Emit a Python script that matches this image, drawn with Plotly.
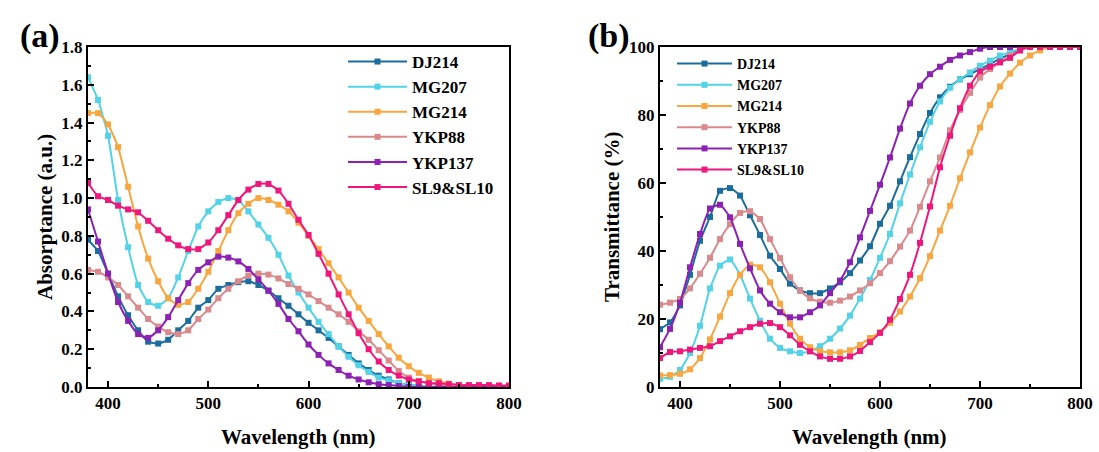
import plotly.graph_objects as go

# Wavelength grid (nm), one sample every 10 nm
wavelength = list(range(380, 801, 10))

series_names = ["DJ214", "MG207", "MG214", "YKP88", "YKP137", "SL9&SL10"]
series_colors = ["#1b6d9e", "#52d3e8", "#f9a63e", "#da8a8c", "#8c21b3", "#f0177c"]

# Absorptance (a.u.)
abs_dj214 = [0.78, 0.72, 0.60, 0.48, 0.38, 0.30, 0.24, 0.23, 0.25, 0.30, 0.35, 0.42, 0.46, 0.52, 0.54,
             0.555, 0.56, 0.54, 0.51, 0.47, 0.43, 0.385, 0.34, 0.30, 0.26, 0.215, 0.17, 0.125, 0.09,
             0.06, 0.04, 0.02, 0.01, 0.005, 0, 0, 0, 0, 0, 0, 0, 0, 0]
abs_mg207 = [1.64, 1.52, 1.33, 0.99, 0.74, 0.54, 0.45, 0.43, 0.47, 0.58, 0.72, 0.85, 0.93, 0.98, 1.00,
             0.99, 0.93, 0.86, 0.79, 0.70, 0.59, 0.50, 0.42, 0.345, 0.28, 0.215, 0.16, 0.115, 0.08,
             0.05, 0.035, 0.02, 0.01, 0.005, 0, 0, 0, 0, 0, 0, 0, 0, 0]
abs_mg214 = [1.45, 1.45, 1.39, 1.27, 1.06, 0.85, 0.68, 0.56, 0.47, 0.435, 0.45, 0.52, 0.61, 0.72, 0.83,
             0.92, 0.97, 1.00, 0.99, 0.965, 0.93, 0.87, 0.80, 0.73, 0.655, 0.58, 0.50, 0.42, 0.35,
             0.28, 0.215, 0.155, 0.11, 0.075, 0.05, 0.03, 0.018, 0.01, 0.005, 0, 0, 0, 0]
abs_ykp88 = [0.62, 0.61, 0.58, 0.54, 0.48, 0.42, 0.36, 0.32, 0.29, 0.28, 0.30, 0.36, 0.41, 0.47, 0.52,
             0.56, 0.59, 0.60, 0.595, 0.575, 0.545, 0.52, 0.49, 0.455, 0.42, 0.385, 0.345, 0.295, 0.25,
             0.195, 0.14, 0.085, 0.05, 0.03, 0.02, 0.01, 0.005, 0, 0, 0, 0, 0, 0]
abs_ykp137 = [0.94, 0.77, 0.60, 0.45, 0.35, 0.28, 0.26, 0.30, 0.37, 0.46, 0.55, 0.62, 0.66, 0.69, 0.685,
              0.665, 0.625, 0.57, 0.51, 0.44, 0.36, 0.295, 0.225, 0.17, 0.125, 0.09, 0.06, 0.04, 0.025,
              0.015, 0.01, 0.005, 0, 0, 0, 0, 0, 0, 0, 0, 0, 0, 0]
abs_sl = [1.08, 1.01, 0.99, 0.96, 0.94, 0.925, 0.88, 0.83, 0.785, 0.75, 0.73, 0.73, 0.765, 0.83, 0.91,
          0.99, 1.045, 1.075, 1.075, 1.04, 0.97, 0.885, 0.805, 0.705, 0.60, 0.49, 0.385, 0.285, 0.20,
          0.135, 0.09, 0.06, 0.04, 0.03, 0.02, 0.02, 0.015, 0.01, 0.01, 0.01, 0.01, 0.008, 0.008]

# Transmittance (%)
tr_dj214 = [17, 19, 24, 33, 43, 50, 57.7, 58.5, 56.3, 50.5, 44.7, 38.6, 34.7, 30.4, 28.4, 27.6, 27.6,
            29, 30.8, 33.5, 37.2, 41.4, 48, 53.3, 60.5, 67.6, 74.4, 80.6, 85.2, 88.3, 90.5, 92, 93.5,
            95, 96.5, 98, 99.3, 100, 100, 100, 100, 100, 100]
tr_mg207 = [2.4, 3, 5, 10, 18, 29, 35.7, 37.5, 33, 26, 19.5, 14.2, 11.5, 10.5, 10, 10.5, 12, 14.2,
            17.2, 21, 26, 31.5, 38, 45, 54, 62.5, 70.5, 78, 84, 88, 90.5, 92.5, 94.5, 96, 97.5, 98.5,
            99.5, 100, 100, 100, 100, 100, 100]
tr_mg214 = [3.4, 3.5, 3.9, 5.2, 8.5, 14, 20.7, 27.6, 33, 36, 35.2, 30.8, 24.5, 18.6, 14.2, 11.7, 10.5,
            10.2, 10.2, 10.8, 12.4, 14.4, 16.1, 18.9, 22.2, 26.6, 32, 38.5, 46, 53.3, 61.4, 69, 76.3,
            82.9, 88.4, 92.2, 95.4, 97.5, 99, 100, 100, 100, 100]
tr_ykp88 = [24.2, 24.8, 25.9, 29, 33.3, 38, 43.5, 47.9, 51.2, 51.7, 49.4, 43.5, 37.9, 32.3, 28.4, 26.1,
            25.1, 24.8, 25.4, 26.6, 28.4, 30.5, 33.5, 37, 41.3, 46, 53, 60.5, 67.5, 75.5, 81.5, 86.5,
            91, 93.5, 95.5, 97.5, 99, 100, 100, 100, 100, 100, 100]
tr_ykp137 = [11.7, 17.1, 24.8, 35.2, 45, 52.5, 53.6, 49.9, 42.1, 34.9, 28.4, 24.5, 22, 20.5, 20.5, 22,
             24, 27.6, 31.3, 36.7, 44, 51.8, 59.5, 67.5, 76, 83.4, 88.6, 92, 94.2, 96.2, 97.5, 98.5,
             99.5, 100, 100, 100, 100, 100, 100, 100, 100, 100, 100]
tr_sl = [8.5, 10.3, 10.5, 11, 11.5, 12, 13.5, 14.9, 16.4, 17.6, 18.6, 18.8, 17.6, 15.2, 12.4, 10.5, 9,
         8.3, 8.3, 9, 10.6, 13.2, 15.9, 19.8, 25.9, 33, 42.4, 53.1, 64.6, 73.9, 82, 88.6, 92.8, 94.2,
         95.5, 96.8, 99, 100, 100, 100, 100, 100, 100]

absorptance = [abs_dj214, abs_mg207, abs_mg214, abs_ykp88, abs_ykp137, abs_sl]
transmittance = [tr_dj214, tr_mg207, tr_mg214, tr_ykp88, tr_ykp137, tr_sl]

W, H = 1099, 452
FONT = "Times New Roman, Liberation Serif, serif"


def px_x(p):
    return p / W


def px_y(p):
    return 1 - p / H


fig = go.Figure()

for name, color, ya, yt in zip(series_names, series_colors, absorptance, transmittance):
    style = dict(mode="lines+markers",
                 line=dict(color=color, width=2, shape="spline", smoothing=0.5),
                 marker=dict(symbol="square", size=6, color=color))
    fig.add_trace(go.Scatter(x=wavelength, y=ya, name=name, xaxis="x", yaxis="y",
                             legend="legend", **style))
    fig.add_trace(go.Scatter(x=wavelength, y=yt, name=name, xaxis="x2", yaxis="y2",
                             legend="legend2", **style))

axis_common = dict(showline=True, linecolor="black", linewidth=2, mirror=True,
                   ticks="inside", ticklen=6, tickwidth=1.5, tickcolor="black",
                   showgrid=False, zeroline=False, automargin=False,
                   tickfont=dict(family=FONT, size=17, color="black", weight="bold"))
xaxis_common = dict(axis_common, range=[380, 800], tick0=400, dtick=100,
                    minor=dict(ticks="inside", ticklen=3, tickwidth=1.5, dtick=50, tick0=400,
                               tickcolor="black"))

ydom = [px_y(387), px_y(47)]
fig.update_layout(
    template="none",
    width=W, height=H,
    margin=dict(l=0, r=0, t=0, b=0, pad=0),
    paper_bgcolor="white", plot_bgcolor="white",
    font=dict(family=FONT, color="black"),
    showlegend=True,
    xaxis=dict(xaxis_common, domain=[px_x(88), px_x(509)], anchor="y"),
    yaxis=dict(axis_common, domain=ydom, anchor="x", range=[0, 1.8], dtick=0.2,
               tickformat=".1f",
               minor=dict(ticks="inside", ticklen=3, tickwidth=1.5, dtick=0.1,
                          tickcolor="black")),
    xaxis2=dict(xaxis_common, domain=[px_x(660), px_x(1080)], anchor="y2"),
    yaxis2=dict(axis_common, domain=ydom, anchor="x2", range=[0, 100], dtick=20,
                minor=dict(ticks="inside", ticklen=3, tickwidth=1.5, dtick=10,
                           tickcolor="black")),
    legend=dict(x=px_x(343), y=px_y(44), xanchor="left", yanchor="top",
                bgcolor="rgba(0,0,0,0)", borderwidth=0, itemwidth=59,
                font=dict(family=FONT, size=17, color="black", weight="bold")),
    legend2=dict(x=px_x(672), y=px_y(48), xanchor="left", yanchor="top",
                 bgcolor="rgba(0,0,0,0)", borderwidth=0, itemwidth=55,
                 font=dict(family=FONT, size=14, color="black", weight="bold")),
)

title_font = dict(family=FONT, size=21, color="black", weight="bold")
label_font = dict(family=FONT, size=34, color="black", weight="bold")
centered = dict(xref="paper", yref="paper", xanchor="center", yanchor="middle", showarrow=False)
fig.add_annotation(text="Absorptance (a.u.)", x=px_x(45), y=px_y(217), textangle=-90,
                   font=title_font, **centered)
fig.add_annotation(text="Transmittance (%)", x=px_x(612), y=px_y(217), textangle=-90,
                   font=title_font, **centered)
fig.add_annotation(text="Wavelength (nm)", x=px_x(298), y=px_y(437), font=title_font, **centered)
fig.add_annotation(text="Wavelength (nm)", x=px_x(869), y=px_y(437), font=title_font, **centered)
fig.add_annotation(text="(a)", x=px_x(40), y=px_y(36), font=label_font, **centered)
fig.add_annotation(text="(b)", x=px_x(609), y=px_y(36), font=label_font, **centered)

fig.write_html("out.html")
